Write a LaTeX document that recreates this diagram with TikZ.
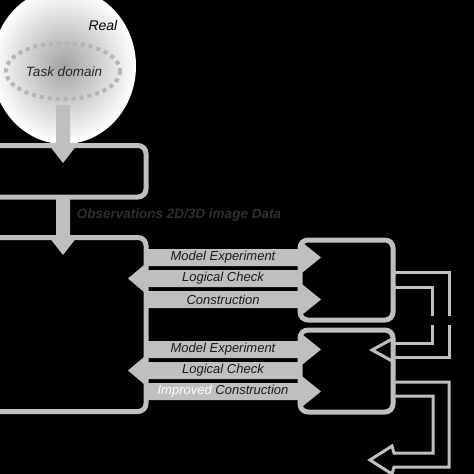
\documentclass[tikz,border=0pt]{standalone}
\usepackage{fontspec}
\setmainfont{Liberation Sans}
\usetikzlibrary{shapes,
                arrows,
                positioning}
\tikzset{block/.style=
   {rectangle,
    draw=gray!50,
    line width=5pt,
    rounded corners=8pt,
    inner sep=0pt}}
\tikzset{band/.style = {fill=gray!50}}
\tikzset{bandtext/.style = {font=\fontsize{13}{15}\selectfont\itshape, text=black!90}}
\tikzset{hollow/.style = {draw=gray!50, line width=3pt}}

\begin{document}
\begin{tikzpicture}[x=1pt, y=-1pt]
    \useasboundingbox (0,0) rectangle (474,474);
    \fill[black] (0,0) rectangle (474,474);

    % Real world
    \shade[inner color=gray!72, outer color=white] (64,66) ellipse (72 and 78);
    \node [font=\fontsize{14}{16}\selectfont\itshape, anchor=west] (real) at (85,25) {Real};
    \draw [gray!58, line width=4pt, dash pattern=on 4pt off 4pt] (63,71) ellipse (57 and 28);
    \node [font=\fontsize{13.5}{16}\selectfont\itshape, text=black!85] (task) at (64,72) {Task domain};

    % Blocks
    \node [block, minimum width=156pt, minimum height=51.5pt] (scan) at (68,171.25) {};
    \node [block, minimum width=156pt, minimum height=174pt] (model) at (68,324.5) {};
    \node [block, minimum width=93pt, minimum height=80pt] (check) at (346.5,280) {};
    \node [block, minimum width=93pt, minimum height=82pt] (recheck) at (346.5,371) {};

    % Down arrows
    \fill [band] (56,105) -- (70,105) -- (70,145) -- (77,145) -- (63,163)
                 -- (49,145) -- (56,145) -- cycle;
    \fill [band] (56,197) -- (70,197) -- (70,237) -- (77,237) -- (63,255)
                 -- (49,237) -- (56,237) -- cycle;
    \node [font=\fontsize{13.5}{15}\selectfont\bfseries\itshape, text=black!82] (obs)
          at (179,215) {Observations 2D/3D image Data};

    % Bands between the blocks
    \foreach \c in {257.5, 299.5, 349.5, 391.5}
        \fill [band] (146,\c-8.5) -- (300,\c-8.5) -- (300,\c-17) -- (321,\c)
                     -- (300,\c+17) -- (300,\c+8.5) -- (146,\c+8.5) -- cycle;
    \foreach \c in {278.5, 370.5}
        \fill [band] (300,\c-8.5) -- (147,\c-8.5) -- (147,\c-16) -- (128,\c)
                     -- (147,\c+16) -- (147,\c+8.5) -- (300,\c+8.5) -- cycle;

    \node [bandtext] (exp1) at (223,257.5) {Model Experiment};
    \node [bandtext] (chk1) at (223,278.5) {Logical Check};
    \node [bandtext] (con1) at (223,299.5) {Construction};
    \node [bandtext] (exp2) at (223,349.5) {Model Experiment};
    \node [bandtext] (chk2) at (223,370.5) {Logical Check};
    \node [bandtext] (con2) at (223,391.5) {\textcolor{white}{Improved} Construction};

    % Feedback arrows
    \draw [hollow] (393,272) -- (449,272) -- (449,316);
    \draw [hollow] (449,325) -- (449,357) -- (395,357);
    \draw [hollow] (393,287) -- (432,287) -- (432,316);
    \draw [hollow] (432,325) -- (432,343) -- (395,343);
    \draw [hollow] (394,338) -- (372,350) -- (394,362);

    \draw [hollow] (393,382) -- (449,382) -- (449,467) -- (394,467) -- (392,474)
          -- (370,460) -- (392,446) -- (394,453) -- (433,453) -- (433,396) -- (393,396);

\end{tikzpicture}
\end{document}
